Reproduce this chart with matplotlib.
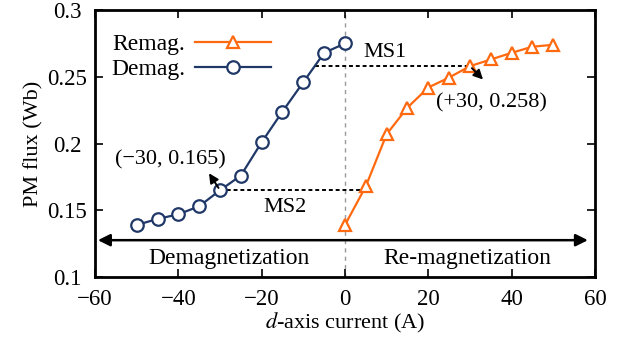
import matplotlib
matplotlib.use("Agg")
import matplotlib.pyplot as plt

plt.rcParams['font.family'] = ['Liberation Serif', 'DejaVu Serif']
plt.rcParams['mathtext.fontset'] = 'stix'

demag_x = [-50, -45, -40, -35, -30, -25, -20, -15, -10, -5, 0]
demag_y = [0.139, 0.1435, 0.147, 0.153, 0.165, 0.176, 0.201, 0.224, 0.246, 0.268, 0.275]
remag_x = [0, 5, 10, 15, 20, 25, 30, 35, 40, 45, 50]
remag_y = [0.139, 0.168, 0.207, 0.227, 0.242, 0.2495, 0.258, 0.263, 0.268, 0.2726, 0.274]
xticks = [-60, -40, -20, 0, 20, 40, 60]
yticks = [0.1, 0.15, 0.2, 0.25, 0.3]
yticklabels = ['0.1', '0.15', '0.2', '0.25', '0.3']

orange = '#FF6A10'
navy = '#1F3868'

fig = plt.figure(figsize=(6.23, 3.37), dpi=100)
ax = fig.add_axes([0.1525, 0.178, 0.8025, 0.792])

ax.axvline(0, color='#999999', ls=(0, (3, 3)), lw=1.0, zorder=1)

l1, = ax.plot(remag_x, remag_y, color=orange, lw=1.6, marker='^', ms=9,
              mfc='white', mec=orange, mew=1.6, label='Remag.', zorder=3)
l2, = ax.plot(demag_x, demag_y, color=navy, lw=1.6, marker='o', ms=9,
              mfc='white', mec=navy, mew=1.6, label='Demag.', zorder=3)

# MS1 / MS2 dashed lines
ax.plot([-7.3, 30], [0.258, 0.258], color='black', ls=(0, (2, 1.5)), lw=1.4, zorder=2)
ax.plot([-30, 4.5], [0.165, 0.165], color='black', ls=(0, (2, 1.5)), lw=1.4, zorder=2)
ax.text(9.6, 0.268, 'MS1', fontsize=16, ha='center', va='center')
ax.text(-14.4, 0.152, 'MS2', fontsize=16, ha='center', va='center')

ax.annotate('', xy=(33.6, 0.2465), xytext=(30, 0.258),
            arrowprops=dict(arrowstyle='-|>', color='black', lw=1.4, mutation_scale=14))
ax.text(35.2, 0.2303, '(+30, 0.258)', fontsize=16, ha='center', va='center')
ax.annotate('', xy=(-33, 0.1795), xytext=(-30, 0.165),
            arrowprops=dict(arrowstyle='-|>', color='black', lw=1.4, mutation_scale=14))
ax.text(-42, 0.1875, '(\u221230, 0.165)', fontsize=16, ha='center', va='center')

# double arrow
ax.annotate('', xy=(-59.3, 0.1276), xytext=(58.3, 0.1276),
            arrowprops=dict(arrowstyle='<|-|>', color='black', lw=1.8, mutation_scale=18,
                            shrinkA=0, shrinkB=0))
ax.text(-27.8, 0.1135, 'Demagnetization', fontsize=17, ha='center', va='center')
ax.text(29.3, 0.1135, 'Re-magnetization', fontsize=17, ha='center', va='center')

ax.set_xlim(-60, 60)
ax.set_ylim(0.1, 0.3)
ax.set_xticks(xticks)
ax.set_xticklabels([str(t).replace('-', '\u2212') for t in xticks])
ax.set_yticks(yticks)
ax.set_yticklabels(yticklabels)
ax.tick_params(direction='in', top=True, right=True, labelsize=16.5, length=6, width=1.2)
ax.tick_params(axis='x', pad=8.5)
ax.tick_params(axis='y', pad=20)
for lab in ax.get_yticklabels():
    lab.set_horizontalalignment('center')
for s in ax.spines.values():
    s.set_linewidth(2.0)

ax.set_xlabel('$\\mathit{d}$-axis current (A)', fontsize=16, labelpad=1)
ax.set_ylabel('PM flux (Wb)', fontsize=16, labelpad=3)

ax.legend(handles=[l1, l2], loc='upper left', frameon=False, markerfirst=False,
          fontsize=17, handlelength=3.2, handletextpad=0.4, borderaxespad=0.3,
          labelspacing=0.15, bbox_to_anchor=(0.0, 0.975))

fig.savefig('out.png', dpi=100)
